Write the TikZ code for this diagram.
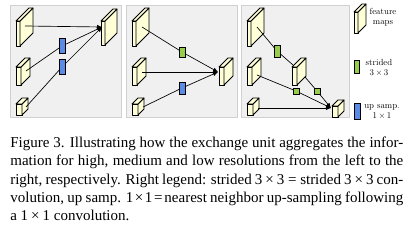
\documentclass[tikz,border=0pt]{standalone}
\usepackage{fontspec}
\newfontfamily\capfont{Liberation Serif}
\newfontfamily\legfont{lmroman10-regular.otf}
\usetikzlibrary{arrows.meta}
\definecolor{panelfill}{RGB}{240,240,240}
\definecolor{panelborder}{RGB}{208,208,208}
\definecolor{mapyellow}{RGB}{255,255,215}
\definecolor{boxgreen}{RGB}{150,205,75}
\definecolor{boxblue}{RGB}{90,140,230}
\newcommand\mx{\hspace{0.2em}×\hspace{0.2em}}
\newcommand\meq{\hspace{0.25em}=\hspace{0.25em}}
\newcommand\tmx{\hspace{0.1em}×\hspace{0.1em}}
\newcommand\tmeq{\hspace{0.12em}=\hspace{0.12em}}
% feature map: name, x, ybottom, thickness, height, depth
\newcommand\fmap[6]{%
  \coordinate (#1) at (#2,#3);
  \filldraw[mapface] (#2,#3) -- ++(#4,0) -- ++(0,-#5) -- ++(-#4,0) -- cycle;
  \filldraw[mapface] (#2+#4,#3) -- ++(#6,-#6) -- ++(0,-#5) -- ++(-#6,#6) -- cycle;
  \filldraw[mapface] (#2,#3-#5) -- ++(#4,0) -- ++(#6,-#6) -- ++(-#4,0) -- cycle;
}
\tikzset{
  panel/.style={fill=panelfill, draw=panelborder, line width=0.5pt},
  mapface/.style={fill=mapyellow, draw=black, line width=0.45pt, line join=round},
  conn/.style={draw=black, line width=0.4pt},
  arr/.style={conn, -{Latex[length=3pt,width=2.6pt]}},
  gbox/.style={draw=black, fill=boxgreen, inner sep=0pt, line width=0.5pt, minimum width=3.6pt},
  bbox/.style={draw=black, fill=boxblue, inner sep=0pt, line width=0.5pt, minimum width=3.6pt},
  legtext/.style={font=\legfont\fontsize{5.3}{6}\selectfont, align=center, inner sep=0pt},
}
\begin{document}
\begin{tikzpicture}[x=0.6pt,y=-0.6pt]
\useasboundingbox (0,0) rectangle (412,227);
\fill[white] (0,0) rectangle (412,227);
% panels
\draw[panel] (10,5) rectangle (121,117);
\draw[panel] (126,5) rectangle (237,117);
\draw[panel] (241,5) rectangle (349,117);

% ---- panel 1 (high resolution)
\fmap{L1}{16}{46}{4}{25}{13}
\fmap{M1}{16}{85}{5}{18}{9}
\fmap{S1}{16}{115}{6}{11}{6}
\fmap{T1}{101}{45}{4}{24}{12}
\coordinate (L1s) at (25,26);
\coordinate (M1s) at (26,71);
\coordinate (S1s) at (26,107);
\coordinate (T1t) at (102,27);
\coordinate (b11) at (62,46);
\coordinate (b12) at (62,67);
\draw[arr] (L1s) -- (T1t);
\draw[arr] (M1s) -- (b11) -- (T1t);
\draw[arr] (S1s) -- (b12) -- (T1t);
\node[bbox, minimum height=9pt] (B11) at (b11) {};
\node[bbox, minimum height=9pt] (B12) at (b12) {};

% ---- panel 2 (medium resolution)
\fmap{L2}{132}{46}{4}{25}{13}
\fmap{M2}{132}{85}{5}{18}{9}
\fmap{S2}{132}{115}{6}{11}{6}
\fmap{T2}{219}{85}{5}{18}{9}
\coordinate (L2s) at (142,27);
\coordinate (M2s) at (142,72);
\coordinate (S2s) at (143,107);
\coordinate (T2t) at (218,72);
\coordinate (g2) at (182,52);
\coordinate (b2) at (182,88);
\draw[arr] (L2s) -- (g2) -- (T2t);
\draw[arr] (M2s) -- (T2t);
\draw[arr] (S2s) -- (b2) -- (T2t);
\node[gbox, minimum height=6pt] (G2) at (g2) {};
\node[bbox, minimum height=7.2pt] (B2) at (b2) {};

% ---- panel 3 (low resolution)
\fmap{L3}{247}{46}{4}{25}{13}
\fmap{M3}{247}{85}{5}{18}{9}
\fmap{S3}{247}{115}{6}{11}{6}
\fmap{N3}{292}{85}{5}{18}{9}
\fmap{T3}{332}{117}{6}{11}{6}
\coordinate (L3s) at (257,27);
\coordinate (M3s) at (257,75);
\coordinate (S3s) at (258,108);
\coordinate (N3t) at (293,65);
\coordinate (N3s) at (305,77);
\coordinate (T3t) at (331,108);
\coordinate (g31) at (277,51);
\coordinate (g32) at (296,91);
\coordinate (g33) at (317,91);
\draw[conn] (L3s) -- (g31) -- (N3t);
\draw[arr] (N3s) -- (g33) -- (T3t);
\draw[arr] (M3s) -- (g32) -- (T3t);
\draw[arr] (S3s) -- (T3t);
\node[gbox, minimum height=7.2pt] (G31) at (g31) {};
\node[gbox, minimum height=3.6pt] (G32) at (g32) {};
\node[gbox, minimum height=3.6pt] (G33) at (g33) {};

% ---- legend
\fmap{LegMap}{354}{33}{4}{21}{8}
\node[legtext] (legfm) at (383,17) {feature\\maps};
\node[gbox, minimum width=3pt, minimum height=7.8pt] (LegG) at (356.5,66.5) {};
\node[legtext] (legst) at (379,67.5) {strided\\3\,×\,3};
\node[bbox, minimum height=9.6pt] (LegB) at (357,111) {};
\node[legtext] (legup) at (382,111.5) {up samp.\\1\,×\,1};

% ---- caption
\node[anchor=north west, text width=235.8pt, inner sep=0pt, align=justify,
      font=\capfont\fontsize{9}{11}\selectfont] (cap) at (10,136.5)
{\hyphenpenalty=10000 Figure 3. Illustrating how the exchange unit aggregates the infor-\linebreak
mation for high, medium and low resolutions from the left to the\linebreak
right, respectively. Right legend: strided 3\mx3\meq strided 3\mx3 con-\linebreak
volution, up samp. 1\tmx1\tmeq nearest neighbor up-sampling following\linebreak
a 1\mx1 convolution.};
\end{tikzpicture}
\end{document}
